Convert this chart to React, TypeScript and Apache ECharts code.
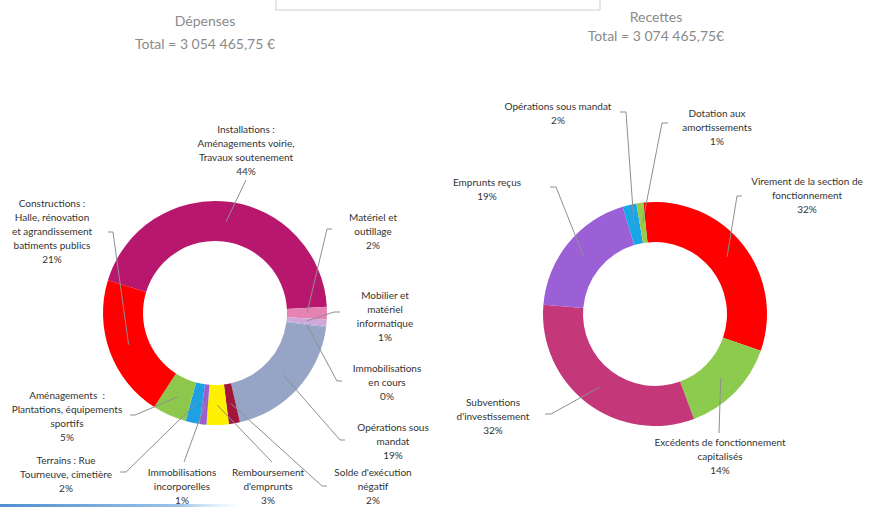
import React, { useEffect, useRef } from "react";
import * as echarts from "echarts";

// ---------- Data ----------
const depensesTitle = "Dépenses";
const depensesTotal = "Total = 3 054 465,75 €";
const depensesCategories = [
  "Installations :\nAménagements voirie,\nTravaux soutenement",
  "Matériel et\noutillage",
  "Mobilier et\nmatériel\ninformatique",
  "Immobilisations\nen cours",
  "Opérations sous\nmandat",
  "Solde d'exécution\nnégatif",
  "Remboursement\nd'emprunts",
  "Immobilisations\nincorporelles",
  "Terrains : Rue\nTourneuve, cimetière",
  "Aménagements  :\nPlantations, équipements\nsportifs",
  "Constructions :\nHalle, rénovation\net agrandissement\nbatiments publics",
];
const depensesValues = [44.4, 1.8, 0.9, 0.2, 19.4, 1.6, 3.2, 1.0, 2.0, 4.9, 20.6];

const recettesTitle = "Recettes";
const recettesTotal = "Total = 3 074 465,75€";
const recettesCategories = [
  "Virement de la section de\nfonctionnement",
  "Excédents de fonctionnement\ncapitalisés",
  "Subventions\nd'investissement",
  "Emprunts reçus",
  "Opérations sous mandat",
  "Dotation aux\namortissements",
];
const recettesValues = [32, 14, 32, 19, 2, 1];

// ---------- Styles / layout ----------
const depensesColors = [
  "#B8176E", "#E683B4", "#CFA8D8", "#B9A0D8", "#96A5C6", "#A3163C",
  "#FFF000", "#9B5FD0", "#1DA1E2", "#8DC84D", "#FE0000",
];
const recettesColors = ["#FF0000", "#8DCB4F", "#C4387A", "#9B5FD6", "#1AA6E6", "#97CC4A"];

type LP = { x: number; y: number; ex: number; ey: number; kx?: number };
const leftLabelPos: LP[] = [
  { x: 246, y: 150, ex: 246, ey: 180 },
  { x: 373, y: 231, ex: 332, ey: 229, kx: 327 },
  { x: 385, y: 316, ex: 340, ey: 312, kx: 334 },
  { x: 387, y: 382, ex: 342, ey: 381, kx: 337 },
  { x: 393, y: 441, ex: 345, ey: 440, kx: 340 },
  { x: 373, y: 486, ex: 327, ey: 486, kx: 322 },
  { x: 268, y: 486, ex: 272, ey: 462 },
  { x: 182, y: 486, ex: 184, ey: 462 },
  { x: 66, y: 474, ex: 120, ey: 472, kx: 126 },
  { x: 67, y: 416, ex: 130, ey: 415, kx: 135 },
  { x: 52, y: 231, ex: 108, ey: 232, kx: 113 },
];
const rightLabelPos: LP[] = [
  { x: 807, y: 195, ex: 742, ey: 196, kx: 737 },
  { x: 720, y: 456, ex: 719, ey: 433 },
  { x: 493, y: 416, ex: 545, ey: 414, kx: 551 },
  { x: 487, y: 189, ex: 550, ey: 187, kx: 556 },
  { x: 558, y: 113, ex: 620, ey: 112, kx: 626 },
  { x: 717, y: 127, ex: 668, ey: 123, kx: 662 },
];

const LEFT_CENTER = [215, 313];
const RIGHT_CENTER = [655, 314];
const RADII = [72, 112];
const MID_R = 92;
const FONT = "Lato, 'Open Sans', sans-serif";

function makeLayout(center: number[], pos: LP[]) {
  return (params: any) => {
    const p = pos[params.dataIndex];
    if (!p) return {};
    let ang = 0;
    const pts = params.labelLinePoints;
    if (pts && pts.length) {
      ang = Math.atan2(pts[0][1] - center[1], pts[0][0] - center[0]);
    } else if (params.rect) {
      const r = params.rect;
      ang = Math.atan2(r.y + r.height / 2 - center[1], r.x + r.width / 2 - center[0]);
    }
    const mx = center[0] + MID_R * Math.cos(ang);
    const my = center[1] + MID_R * Math.sin(ang);
    const line =
      p.kx != null
        ? [[mx, my], [p.kx, p.ey], [p.ex, p.ey]]
        : [[mx, my], [p.ex, p.ey]];
    return {
      x: p.x,
      y: p.y,
      align: "center",
      verticalAlign: "middle",
      labelLinePoints: line,
    };
  };
}

function makeSeries(
  name: string,
  cats: string[],
  vals: number[],
  colors: string[],
  center: number[],
  startAngle: number,
  pos: LP[]
) {
  const common = {
    type: "pie",
    name,
    center,
    radius: RADII,
    startAngle,
    clockwise: true,
    percentPrecision: 0,
    avoidLabelOverlap: false,
    silent: true,
    emphasis: { disabled: true },
  };
  // Colored ring (no labels)
  const ring = {
    ...common,
    z: 2,
    itemStyle: { borderWidth: 0 },
    label: { show: false },
    labelLine: { show: false },
    data: cats.map((c, i) => ({ name: c, value: vals[i], itemStyle: { color: colors[i] } })),
  };
  // Transparent overlay carrying labels + leader lines drawn above the ring
  const labels = {
    ...common,
    z: 3,
    itemStyle: { color: "rgba(0,0,0,0)", borderWidth: 0 },
    label: {
      show: true,
      position: "outside",
      formatter: "{b}\n{d}%",
      fontFamily: FONT,
      fontSize: 10,
      lineHeight: 14,
      color: "#333333",
      align: "center",
    },
    labelLine: {
      show: true,
      showAbove: true,
      length: 10,
      length2: 10,
      smooth: false,
      lineStyle: { color: "#8f8f8f", width: 1 },
    },
    labelLayout: makeLayout(center, pos),
    data: cats.map((c, i) => ({ name: c, value: vals[i] })),
  };
  return [ring, labels];
}

export default function App() {
  const ref = useRef<HTMLDivElement>(null);
  useEffect(() => {
    if (!ref.current) return;
    const chart = echarts.init(ref.current, undefined, { renderer: "svg" });
    const titleStyle = (text: string) => ({
      text,
      fill: "#8a8a8a",
      fontSize: 14,
      fontFamily: FONT,
      align: "center",
      verticalAlign: "middle",
    });
    chart.setOption({
      animation: false,
      backgroundColor: "#ffffff",
      graphic: [
        {
          type: "rect",
          silent: true,
          shape: { x: 276, y: -2, width: 324, height: 12 },
          style: { fill: "#ffffff", stroke: "#cfcfcf", lineWidth: 1 },
        },
        { type: "text", x: 205, y: 20, silent: true, style: titleStyle(depensesTitle) },
        { type: "text", x: 205, y: 43, silent: true, style: titleStyle(depensesTotal) },
        { type: "text", x: 656, y: 16, silent: true, style: titleStyle(recettesTitle) },
        { type: "text", x: 656, y: 35, silent: true, style: titleStyle(recettesTotal) },
        {
          type: "rect",
          silent: true,
          z: -1,
          shape: { x: 0, y: 504, width: 240, height: 3 },
          style: {
            fill: new echarts.graphic.LinearGradient(0, 0, 1, 0, [
              { offset: 0, color: "#4f8fd0" },
              { offset: 0.75, color: "#9cc3ea" },
              { offset: 1, color: "rgba(200,225,250,0)" },
            ]),
          },
        },
      ],
      series: [
        ...makeSeries("Dépenses", depensesCategories, depensesValues, depensesColors, LEFT_CENTER, 163, leftLabelPos),
        ...makeSeries("Recettes", recettesCategories, recettesValues, recettesColors, RIGHT_CENTER, 96, rightLabelPos),
      ],
    });
    return () => chart.dispose();
  }, []);
  return (
    <div
      ref={ref}
      style={{ position: "fixed", left: 0, top: 0, width: 872, height: 507, background: "#fff" }}
    />
  );
}
